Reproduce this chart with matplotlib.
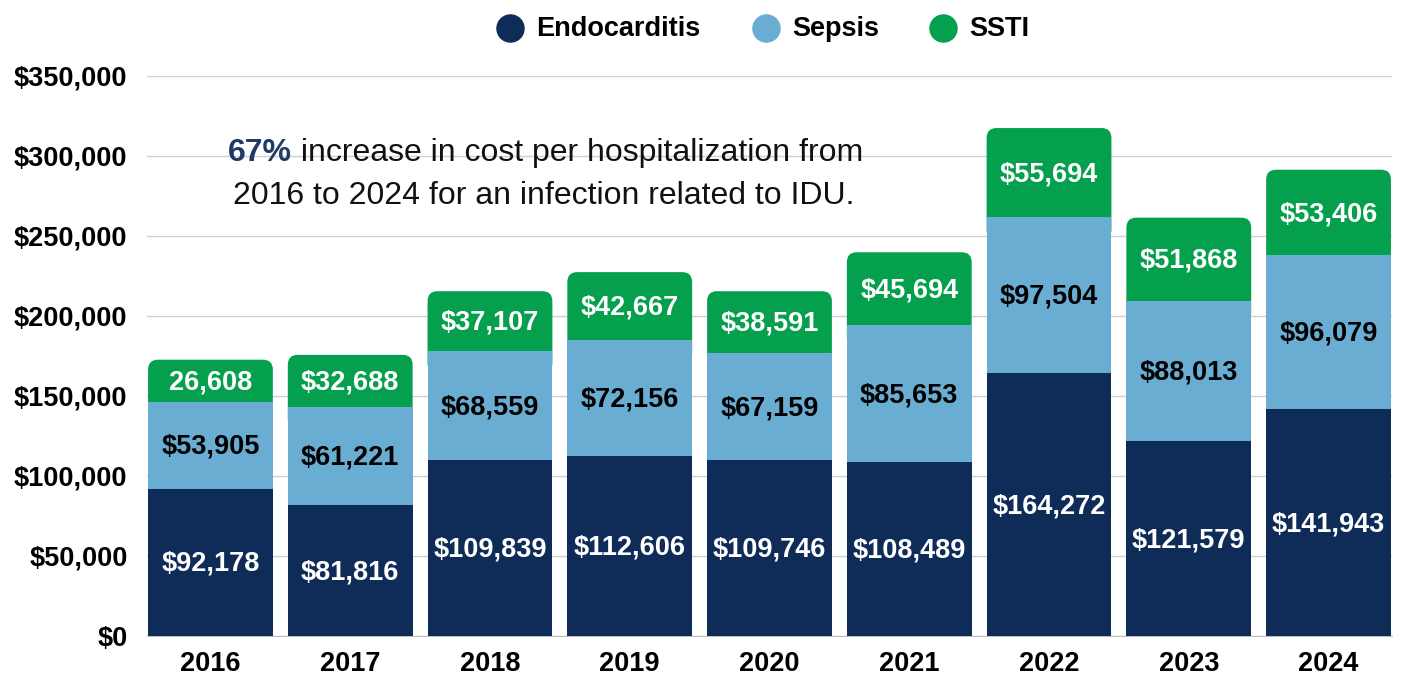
import matplotlib
matplotlib.use("Agg")
from matplotlib import pyplot as plt
from matplotlib.patches import FancyBboxPatch
from matplotlib.lines import Line2D
import numpy as np

plt.rcParams['font.family'] = ['Liberation Sans', 'DejaVu Sans']

years = ['2016', '2017', '2018', '2019', '2020', '2021', '2022', '2023', '2024']
endocarditis = [92178, 81816, 109839, 112606, 109746, 108489, 164272, 121579, 141943]
sepsis = [53905, 61221, 68559, 72156, 67159, 85653, 97504, 88013, 96079]
ssti = [26608, 32688, 37107, 42667, 38591, 45694, 55694, 51868, 53406]
ssti_labels = ['26,608', '$32,688', '$37,107', '$42,667', '$38,591',
               '$45,694', '$55,694', '$51,868', '$53,406']
series = ['Endocarditis', 'Sepsis', 'SSTI']
yticks = np.arange(0, 350001, 50000)

NAVY = '#0e2c57'
BLUE = '#69aed2'
GREEN = '#05a04e'
W, H = 1414, 678

fig = plt.figure(figsize=(W / 100, H / 100), dpi=100)
ax = fig.add_axes([147 / W, 1 - 636 / H, (1392 - 147) / W, 560 / H])

x = np.arange(len(years))
width = 0.893
fs = 19.5

ax.set_xlim(-0.454, len(years) - 1 + 0.454)
ax.set_ylim(0, 350000)

# rounded top corners: ~10 px radius
xr = 0.07
aspect = (10 / 1.6 * 1000) / xr

for i in x:
    e, s, t = endocarditis[i], sepsis[i], ssti[i]
    base = e + s - 14000
    top = FancyBboxPatch((i - width / 2, base), width, e + s + t - base,
                         boxstyle=f"round,pad=0,rounding_size={xr}",
                         mutation_aspect=aspect, fc=GREEN, ec='none', zorder=2)
    ax.add_patch(top)

ax.bar(x, sepsis, width, bottom=endocarditis, color=BLUE, zorder=3)
ax.bar(x, endocarditis, width, color=NAVY, zorder=3)

for i in x:
    e, s, t = endocarditis[i], sepsis[i], ssti[i]
    ax.text(i, e / 2 - 1000, f'${e:,}', ha='center', va='center', color='white',
            fontsize=fs, fontweight='bold', zorder=5)
    ax.text(i, e + s / 2 - 1000, f'${s:,}', ha='center', va='center', color='black',
            fontsize=fs, fontweight='bold', zorder=5)
    ax.text(i, e + s + t / 2 - 1000, ssti_labels[i], ha='center', va='center',
            color='white', fontsize=fs, fontweight='bold', zorder=5)

ax.set_yticks(yticks)
ax.set_yticklabels([f'${v:,}' for v in yticks], fontsize=fs, fontweight='bold')
ax.set_xticks(x)
ax.set_xticklabels(years, fontsize=fs, fontweight='bold')
ax.tick_params(axis='both', length=0)
ax.tick_params(axis='x', pad=11)
ax.tick_params(axis='y', pad=14)
ax.yaxis.grid(True, color='#d0d0d0', lw=1, zorder=0)
ax.set_axisbelow(True)
for sp in ['top', 'right', 'left']:
    ax.spines[sp].set_visible(False)
ax.spines['bottom'].set_color('#bfbfbf')

# annotation
t1 = fig.text(228 / W, 1 - 153 / H, '67%', fontsize=23, fontweight='bold',
              color='#1f3a66', va='center', ha='left')
fig.canvas.draw()
bb = t1.get_window_extent()
fig.text(bb.x1 / W, 1 - 153 / H, ' increase in cost per hospitalization from',
         fontsize=23, color='#111111', va='center', ha='left')
fig.text(544 / W, 1 - 196 / H, '2016 to 2024 for an infection related to IDU.',
         fontsize=23, color='#111111', va='center', ha='center')

# legend
leg_cx = [510, 766, 943]
for cx, lab, c in zip(leg_cx, series, (NAVY, BLUE, GREEN)):
    fig.add_artist(Line2D([cx / W], [1 - 27.5 / H], marker='o', ls='none',
                          markersize=19.5, color=c, transform=fig.transFigure))
    fig.text((cx + 26) / W, 1 - 29 / H, lab, fontsize=fs, fontweight='bold',
             va='center', ha='left')

fig.savefig('out.png', dpi=100)
